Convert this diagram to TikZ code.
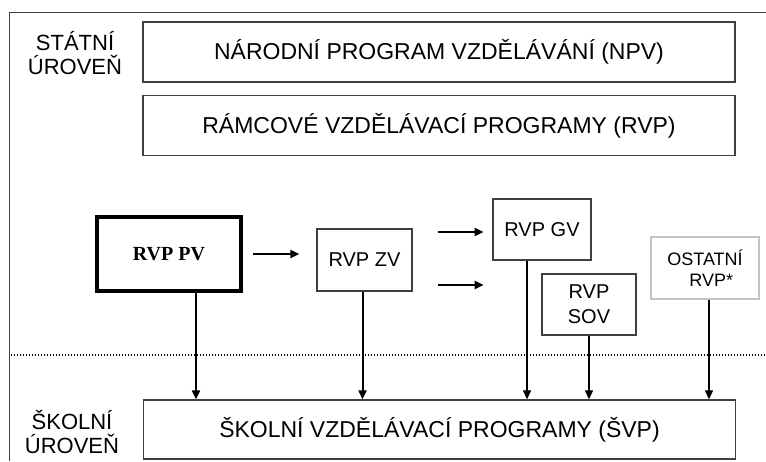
\documentclass[tikz,border=0pt]{standalone}
\usepackage{fontspec}
\setmainfont{Liberation Sans}
\newfontfamily\rvpserif{Liberation Serif}
\usetikzlibrary{arrows.meta,positioning}
\definecolor{edge}{HTML}{404040}
\definecolor{lightedge}{HTML}{C4C4C4}

\begin{document}
\begin{tikzpicture}[x=1pt, y=-1pt,
  every node/.style={align=center, inner sep=0pt},
  level/.style={font=\fontsize{22}{24}\selectfont},
  box/.style={draw=edge, line width=1.3pt, fill=white,
              font=\fontsize{20}{25}\selectfont},
  widebox/.style={box, minimum width=592pt, minimum height=60pt,
                  font=\fontsize{23}{24}\selectfont},
  pvbox/.style={box, draw=black, line width=4pt, minimum width=144pt,
                minimum height=74pt, font=\rvpserif\bfseries\fontsize{20}{24}\selectfont},
  obox/.style={box, draw=lightedge, font=\fontsize{18}{21}\selectfont},
  arr/.style={-{Triangle[length=9pt,width=8pt]}, line width=2pt},
  tarr/.style={-{Triangle[length=9pt,width=8pt]}, line width=1.2pt}
]
\useasboundingbox (0,0) rectangle (766,461);

%% Frame and separator
\coordinate (fbl) at (9.5,461);
\coordinate (ftl) at (9.5,12.7);
\coordinate (ftr) at (766,12.7);
\draw[edge, line width=1.5pt] (fbl) -- (ftl) -- (ftr);
\coordinate (sepl) at (11,355);
\coordinate (sepr) at (766,355);
\draw[line width=1.4pt, dash pattern=on 1.2pt off 1.8pt] (sepl) -- (sepr);

%% State level
\node[level] (state) at (75,53) {STÁTNÍ\\ÚROVEŇ};
\node[widebox] (npv) at (439,52)    {NÁRODNÍ PROGRAM VZDĚLÁVÁNÍ (NPV)};
\node[widebox] (rvp) at (439,125.5) {RÁMCOVÉ VZDĚLÁVACÍ PROGRAMY (RVP)};

%% Framework programmes
\node[pvbox] (pv) at (169,254) {RVP PV};
\node[box, minimum width=95pt, minimum height=62pt] (zv) at (364.5,260) {RVP ZV};
\node[box, minimum width=98pt, minimum height=61pt] (gv) at (542,229.5) {RVP GV};
\node[box, minimum width=94pt, minimum height=61pt] (sov) at (589,304.5) {RVP\\SOV};
\node[obox, minimum width=108pt, minimum height=62pt] (ost) at (705,268)
      {OSTATNÍ\\\hspace{0.7em}RVP*};

%% School level
\node[level] (school) at (72,432) {ŠKOLNÍ\\ÚROVEŇ};
\node[widebox, minimum height=59pt] (svp) at (439.5,429.5)
      {ŠKOLNÍ VZDĚLÁVACÍ PROGRAMY (ŠVP)};

%% Horizontal arrows
\draw[arr, shorten <=10pt, shorten >=17pt] (pv.east) -- (zv.west |- pv.east);
\draw[arr] ([xshift=25pt]zv.east |- 0,232) -- ++(46,0);
\draw[arr] ([xshift=25pt]zv.east |- 0,285) -- ++(46,0);

%% Down to school level
\draw[arr]  ([xshift=27pt]pv.south) -- ([xshift=27pt]pv.south |- svp.north);
\draw[arr]  ([xshift=-2pt]zv.south) -- ([xshift=-2pt]zv.south |- svp.north);
\draw[tarr] ([xshift=-15pt]gv.south) -- ([xshift=-15pt]gv.south |- svp.north);
\draw[tarr] (sov.south) -- (sov.south |- svp.north);
\draw[tarr] ([xshift=4pt]ost.south) -- ([xshift=4pt]ost.south |- svp.north);

\end{tikzpicture}
\end{document}
